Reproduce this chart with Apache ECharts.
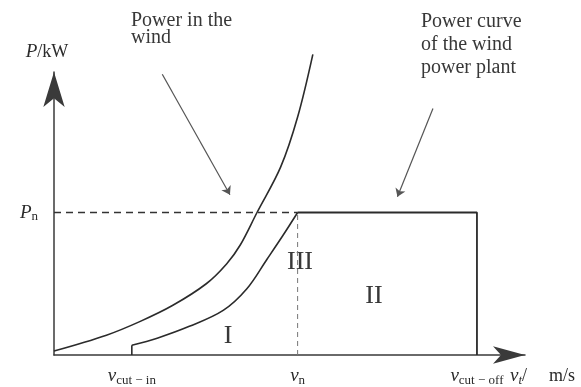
<!DOCTYPE html>
<html>
<head>
<meta charset="utf-8">
<script src="https://cdn.jsdelivr.net/npm/echarts@6/dist/echarts.min.js"></script>
<style>
  html, body { margin: 0; padding: 0; background: #fff; }
  #chart { width: 581px; height: 387px; }
</style>
</head>
<body>
<div id="chart"></div>
<script>
// Characteristic speeds (m/s) and rated power (% of P_n)
const vCutIn = 4.6;
const vRated = 14.4;
const vCutOff = 25;
const pRated = 100;

// Power available in the wind
const windSpeed = [0, 3.1, 5.1, 7.0, 9.0, 10.2, 11.0, 12.0, 13.4, 14.4, 15.3];
const windPower = [2.8, 13.9, 23.6, 34.7, 50, 63.9, 77, 100, 132, 167, 211];

// Rising part of the plant's power curve (cut-in to rated speed)
const plantSpeed = [4.6, 6.1, 8.0, 10.0, 11.4, 12.6, 13.5, 14.4];
const plantPower = [6.9, 11.8, 20.1, 31.3, 46.5, 67.4, 83.3, 100];

// Tick labels on the speed axis
const tickValues = [vCutIn, vRated, vCutOff];
const tickSubs = ['cut − in', 'n', 'cut − off'];

// Pointer arrows from the captions to the curves
const pointerStart = [[6.4, 197], [22.4, 173]];
const pointerEnd = [[10.4, 112.5], [20.3, 111]];

const serif = 'Liberation Serif';
const ink = '#2b2b2b';
const textInk = '#383838';
const xMax = 27.84;
const yMax = 198.6;

const zip = (a, b) => a.map((v, i) => [v, b[i]]);

const subRich = {
  v: { fontFamily: serif, fontStyle: 'italic', fontSize: 19, color: ink, lineHeight: 22, verticalAlign: 'middle' },
  s: { fontFamily: serif, fontSize: 13, color: ink, lineHeight: 22, verticalAlign: 'bottom' },
  si: { fontFamily: serif, fontStyle: 'italic', fontSize: 13, color: ink, lineHeight: 22, verticalAlign: 'bottom' },
  u: { fontFamily: serif, fontSize: 18, color: ink, lineHeight: 22, verticalAlign: 'middle' },
  m: { fontFamily: serif, fontSize: 18, color: ink, lineHeight: 22, verticalAlign: 'middle', padding: [0, 0, 0, 22] }
};

const caption = (text, lineHeight, size) => ({
  text,
  fontFamily: serif,
  fontSize: size,
  lineHeight,
  fill: textInk
});

const chart = echarts.init(document.getElementById('chart'), null, { renderer: 'canvas' });

chart.setOption({
  backgroundColor: '#fff',
  animation: false,
  grid: { left: 54, top: 72, right: 56, bottom: 29, containLabel: false },
  xAxis: {
    type: 'value',
    min: 0,
    max: xMax,
    axisLine: {
      show: true,
      lineStyle: { color: '#3a3a3a', width: 1.5 },
      symbol: ['none', 'arrow'],
      symbolSize: [13, 32]
    },
    axisTick: { show: false },
    splitLine: { show: false },
    axisLabel: {
      customValues: tickValues,
      margin: 10,
      formatter: (val) => {
        const i = tickValues.indexOf(val);
        return i < 0 ? '' : '{v|v}{s|' + tickSubs[i] + '}';
      },
      rich: subRich
    },
    name: '{v|v}{si|t}{u|/}{m|m/s}',
    nameLocation: 'end',
    nameGap: -15,
    nameTextStyle: { align: 'left', verticalAlign: 'top', padding: [10, 0, 0, 0], rich: subRich }
  },
  yAxis: {
    type: 'value',
    min: 0,
    max: yMax,
    axisLine: {
      show: true,
      lineStyle: { color: '#3a3a3a', width: 1.5 },
      symbol: ['none', 'arrow'],
      symbolSize: [16, 35]
    },
    axisTick: { show: false },
    splitLine: { show: false },
    axisLabel: {
      customValues: [pRated],
      margin: 16,
      formatter: () => '{v|P}{s|n}',
      rich: subRich
    },
    name: '{v|P}{u|/kW}',
    nameLocation: 'end',
    nameGap: 9,
    nameTextStyle: { padding: [0, 14, 0, 0], rich: subRich }
  },
  series: [
    {
      name: 'Power in the wind',
      type: 'line',
      data: zip(windSpeed, windPower),
      smooth: 0.35,
      clip: false,
      showSymbol: false,
      lineStyle: { color: ink, width: 1.6 }
    },
    {
      name: 'Plant rise',
      type: 'line',
      data: zip(plantSpeed, plantPower),
      smooth: 0.35,
      showSymbol: false,
      lineStyle: { color: ink, width: 1.6 }
    },
    {
      name: 'Plant cut-in',
      type: 'line',
      data: [[vCutIn, 0], [vCutIn, plantPower[0]]],
      showSymbol: false,
      lineStyle: { color: ink, width: 1.6 }
    },
    {
      name: 'Plant rated',
      type: 'line',
      data: [[vRated, pRated], [vCutOff, pRated], [vCutOff, 0]],
      showSymbol: false,
      lineStyle: { color: ink, width: 1.8 }
    },
    {
      name: 'Rated power level',
      type: 'line',
      data: [[0, pRated], [vRated, pRated]],
      showSymbol: false,
      z: 1,
      lineStyle: { color: '#333', width: 1.4, type: [7, 5] }
    },
    {
      name: 'Rated speed',
      type: 'line',
      data: [[vRated, 0], [vRated, pRated]],
      showSymbol: false,
      z: 1,
      lineStyle: { color: '#777', width: 1, type: [5, 4] }
    },
    {
      name: 'Pointers',
      type: 'lines',
      coordinateSystem: 'cartesian2d',
      clip: false,
      symbol: ['none', 'arrow'],
      symbolSize: 8,
      lineStyle: { color: '#555', width: 1.2, curveness: 0, opacity: 1 },
      data: pointerStart.map((p, i) => ({ coords: [p, pointerEnd[i]] }))
    }
  ],
  graphic: [
    { type: 'text', left: 131, top: 11, style: caption('Power in the\nwind', 17, 20) },
    { type: 'text', left: 421, top: 10, style: caption('Power curve\nof the wind\npower plant', 23, 20) },
    {
      type: 'text', x: 228, y: 336,
      style: { text: 'I', fontFamily: serif, fontSize: 26, fill: textInk, align: 'center', verticalAlign: 'middle' }
    },
    {
      type: 'text', x: 300, y: 262,
      style: { text: 'III', fontFamily: serif, fontSize: 26, fill: textInk, align: 'center', verticalAlign: 'middle' }
    },
    {
      type: 'text', x: 374, y: 296,
      style: { text: 'II', fontFamily: serif, fontSize: 26, fill: textInk, align: 'center', verticalAlign: 'middle' }
    }
  ]
});
</script>
</body>
</html>
